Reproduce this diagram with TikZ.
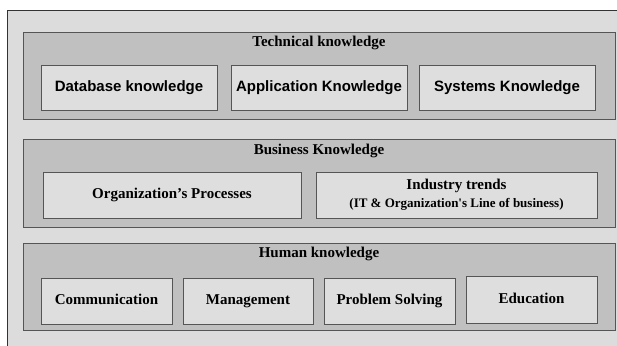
\documentclass[tikz,border=0pt]{standalone}
\usepackage{fontspec}
\usepackage{tikz}
\usepackage{color}
\setmainfont{Liberation Serif}[Ligatures=TeXOff]
\setsansfont{Liberation Sans}[Ligatures=TeXOff]

\definecolor{paper}{RGB}{220,220,220}
\definecolor{band}{RGB}{192,192,192}
\definecolor{cell}{RGB}{222,222,222}
\definecolor{edge}{RGB}{85,85,85}

\tikzset{
  layer/.style={draw=edge, fill=band, line width=1pt, rectangle, inner sep=0pt},
  item/.style={draw=edge, fill=cell, line width=1pt, rectangle, inner sep=0pt,
    minimum height=46pt, text height=10.5pt, text depth=3.5pt, align=center,
    font=\fontsize{15}{17}\selectfont\bfseries},
  heading/.style={font=\fontsize{15}{17}\selectfont\bfseries, inner sep=0pt,
    text height=10.5pt, text depth=3.5pt}
}

\begin{document}
\begin{tikzpicture}[x=1pt,y=-1pt]
\useasboundingbox (0,0) rectangle (617,345);
\clip (0,0) rectangle (617,345);
\draw[fill=paper, draw=black!80, line width=1pt] (7,11) rectangle (640,360);

% technical layer
\node[layer, minimum width=592pt, minimum height=86pt] (tech) at (319,76) {};
\node[heading] (techtitle) at (319,43) {Technical knowledge};
\node[item, minimum width=176pt, minimum height=45pt, font=\fontsize{15}{17}\selectfont\sffamily\bfseries] (db) at (129,87.5) {Database knowledge};
\node[item, minimum width=176pt, minimum height=45pt, font=\fontsize{15}{17}\selectfont\sffamily\bfseries] (app) at (319,87.5) {Application Knowledge};
\node[item, minimum width=176pt, minimum height=45pt, font=\fontsize{15}{17}\selectfont\sffamily\bfseries] (sys) at (507,87.5) {Systems Knowledge};

% business layer
\node[layer, minimum width=592pt, minimum height=88pt] (bus) at (319,183) {};
\node[heading] (bustitle) at (319,151) {Business Knowledge};
\node[item, minimum width=258pt] (proc) at (172,195) {Organization’s Processes};
\node[item, minimum width=281pt, text height={}, text depth={}] (trends) at (456.5,195) {Industry trends\\[1pt]{\fontsize{13}{15}\selectfont (IT \& Organization's Line of business)}};

% human layer
\node[layer, minimum width=592pt, minimum height=87pt] (hum) at (319,286.5) {};
\node[heading] (humtitle) at (319,254) {Human knowledge};
\node[item, minimum width=131pt] (comm) at (106.5,301) {Communication};
\node[item, minimum width=130pt] (mgmt) at (248,301) {Management};
\node[item, minimum width=131pt] (prob) at (389.5,301) {Problem Solving};
\node[item, minimum width=131pt, minimum height=47pt] (edu) at (531.5,299.5) {Education};
\end{tikzpicture}
\end{document}
